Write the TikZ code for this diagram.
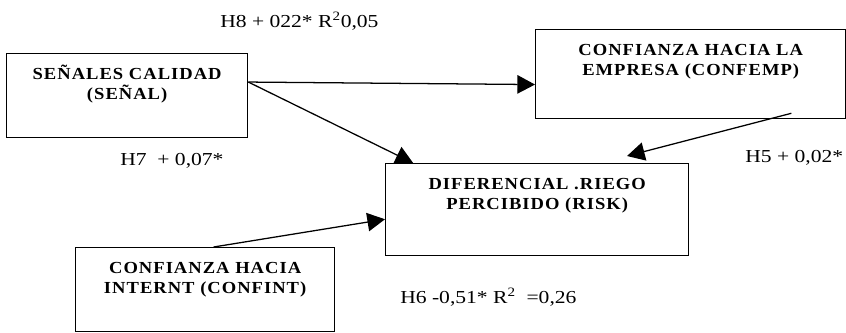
\documentclass[tikz,border=0pt]{standalone}
\usepackage{fontspec}
\setmainfont{Liberation Serif}[FakeStretch=1.18]
\newfontfamily\boxfont{Liberation Serif}[FakeStretch=1.1,LetterSpace=6]
\usetikzlibrary{arrows.meta,positioning}

\begin{document}
\begin{tikzpicture}[x=0.025cm,y=-0.025cm,
		box/.style={
			draw,
			line width=0.9pt,
			anchor=north west,
			align=center,
			inner ysep=0pt,
			text height=1.15cm,
			font=\boxfont\bfseries\fontsize{12}{14.5}\selectfont
		},
		lbl/.style={anchor=base west,inner sep=0pt,font=\fontsize{13}{15}\selectfont},
		arr/.style={-{Triangle[length=0.44cm,width=0.46cm]},line width=0.9pt}
		]
		\useasboundingbox (0,0) rectangle (846,332);
		
		\node[box,minimum width=6.025cm,text depth=0.95cm] (senal) at (6,53) {SEÑALES CALIDAD\\(SEÑAL)};
		\node[box,minimum width=7.75cm,text depth=1.075cm] (confemp) at (535,29) {CONFIANZA HACIA LA\\EMPRESA (CONFEMP)};
		\node[box,minimum width=7.575cm,text depth=1.15cm] (risk) at (385,163) {DIFERENCIAL .RIEGO\\PERCIBIDO (RISK)};
		\node[box,minimum width=6.475cm,text depth=0.95cm] (confint) at (75,247) {CONFIANZA HACIA\\INTERNT (CONFINT)};
		
		\node[lbl] (h8) at (220,27) {H8 + 022* R\textsuperscript{2}0,05};
		\node[lbl] (h7) at (120,165) {H7 ~+ 0,07*};
		\node[lbl] (h5) at (745,162) {H5 + 0,02*};
		\node[lbl] (h6) at (400,303) {H6 -0,51* R\textsuperscript{2} ~=0,26};
		
		\coordinate (tipfive) at (627,156);
		
		\draw[arr] ([yshift=0.34cm]senal.east) -- ([yshift=-0.26cm]confemp.west);
		\draw[arr] ([yshift=0.34cm]senal.east) -- ([xshift=-3.1cm]risk.north);
		\draw[arr] ([shift={(-1.375cm,0.15cm)}]confemp.south east) -- (tipfive);
		\draw[arr] ([xshift=0.21cm]confint.north) -- ([yshift=-0.24cm]risk.west);
		
	\end{tikzpicture}
\end{document}
